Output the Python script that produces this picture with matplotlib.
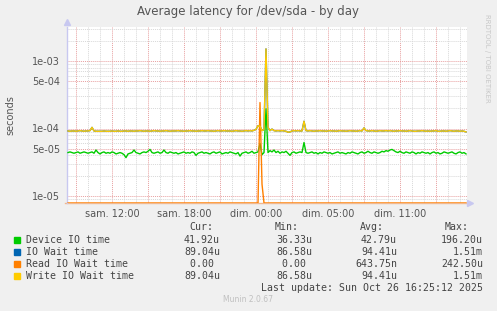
import numpy as np
import matplotlib
matplotlib.use("Agg")
import matplotlib.pyplot as plt
from matplotlib.ticker import FixedLocator, NullFormatter

# --- data (microseconds, one point every 10 minutes, 33h20m window) ---
device_io = [
    44, 45, 44, 43, 44, 45, 43, 44, 45, 44, 43, 44, 45, 43, 48, 44, 42, 44, 45, 43,
    44, 43, 45, 44, 42, 43, 44, 43, 41, 37, 42, 43, 44, 48, 44, 43, 42, 44, 45, 44,
    46, 49, 44, 43, 44, 45, 43, 44, 48, 44, 43, 45, 44, 43, 44, 42, 43, 44, 45, 43,
    44, 43, 45, 44, 40, 43, 44, 45, 43, 44, 43, 42, 44, 45, 43, 44, 45, 42, 43, 44,
    43, 45, 44, 43, 42, 44, 39, 43, 44, 45, 43, 44, 46, 43, 44, 45, 60, 41, 44, 196,
    44, 47, 45, 48, 44, 46, 43, 45, 44, 46, 43, 40, 44, 45, 43, 44, 45, 44, 62, 44,
    43, 44, 45, 43, 44, 42, 44, 43, 45, 44, 43, 44, 42, 43, 44, 45, 43, 44, 43, 42,
    44, 43, 45, 44, 43, 42, 44, 45, 43, 44, 46, 44, 43, 45, 44, 43, 44, 46, 45, 47,
    46, 48, 49, 47, 45, 44, 46, 44, 43, 45, 44, 43, 45, 44, 42, 44, 43, 45, 44, 43,
    44, 42, 44, 45, 43, 44, 42, 43, 45, 44, 43, 44, 45, 43, 42, 44, 45, 43, 44, 42,
]

write_wait = [
    92, 91, 92, 92, 91, 92, 93, 92, 91, 92, 92, 93, 104, 92, 91, 91, 91, 91, 92, 91,
    91, 91, 92, 91, 91, 92, 91, 91, 92, 92, 91, 92, 92, 91, 92, 92, 93, 92, 91, 92,
    92, 91, 92, 93, 92, 92, 91, 92, 92, 93, 92, 91, 92, 92, 92, 93, 92, 92, 91, 92,
    92, 93, 92, 92, 91, 92, 92, 93, 92, 92, 93, 92, 92, 91, 92, 93, 92, 92, 93, 92,
    92, 92, 91, 92, 93, 92, 92, 91, 92, 93, 92, 93, 92, 94, 97, 110, 108, 93, 96, 1510,
    104, 93, 98, 93, 92, 93, 92, 93, 92, 91, 88, 89, 92, 93, 92, 93, 92, 92, 128, 93,
    92, 93, 92, 91, 92, 92, 93, 92, 92, 91, 92, 93, 92, 92, 91, 92, 93, 92, 92, 91,
    92, 93, 92, 92, 91, 92, 93, 92, 102, 93, 92, 92, 93, 92, 91, 92, 93, 92, 92, 93,
    92, 93, 92, 91, 92, 92, 93, 92, 92, 91, 92, 93, 92, 91, 91, 92, 92, 93, 92, 91,
    92, 91, 92, 92, 93, 91, 91, 92, 92, 91, 92, 93, 92, 91, 92, 92, 91, 92, 91, 89,
]

# IO wait is identical to write wait (same legend stats)
io_wait = list(write_wait)

# read wait is zero except around midnight
read_idx = [96, 97]
read_val = [242.5, 15.0]

tick_hours = [12, 18, 24, 30, 36]
tick_labels = ["sam. 12:00", "sam. 18:00", "dim. 00:00", "dim. 05:00", "dim. 11:00"]

legend_names = ["Device IO time", "IO Wait time", "Read IO Wait time", "Write IO Wait time"]
legend_colors = ["#00CC00", "#0066B3", "#FF8000", "#FFCC00"]
legend_cur = ["41.92u", "89.04u", "0.00 ", "89.04u"]
legend_min = ["36.33u", "86.58u", "0.00 ", "86.58u"]
legend_avg = ["42.79u", "94.41u", "643.75n", "94.41u"]
legend_max = ["196.20u", "1.51m", "242.50u", "1.51m"]

# --- layout ---
W, H = 497, 311
fig = plt.figure(figsize=(W / 100, H / 100), dpi=100, facecolor="#F0F0F0")
ax = fig.add_axes([67 / W, 1 - 203 / H, 400 / W, 176 / H])
ax.set_facecolor("white")

t0, t1 = 8.25, 8.25 + 400 * 5 / 60
ymin, ymax = 10 ** (-5 - 7 / 67.5), 10 ** (-3 + 34 / 67.5)

n = len(device_io)
t = t0 + (np.arange(n) + 0.5) / 6.0

read_wait = np.zeros(n)
read_wait[read_idx] = read_val

def to_sec(v):
    v = np.asarray(v, dtype=float) * 1e-6
    return np.maximum(v, ymin)

ax.plot(t, to_sec(device_io), color=legend_colors[0], lw=1.0, zorder=3)
ax.plot(t, to_sec(io_wait), color=legend_colors[1], lw=1.0, zorder=3)
ax.plot(t, to_sec(read_wait), color=legend_colors[2], lw=1.0, zorder=3)
ax.plot(t, to_sec(write_wait), color=legend_colors[3], lw=1.0, zorder=3)

ax.set_yscale("log")
ax.set_xlim(t0, t1)
ax.set_ylim(ymin, ymax)

# grid: red majors, grey minors
major_y = [1e-5, 5e-5, 1e-4, 5e-4, 1e-3]
minor_y = [m * 10.0 ** e for e in (-6, -5, -4, -3) for m in (2, 3, 4, 6, 7, 8, 9)]
ax.yaxis.set_major_locator(FixedLocator(major_y))
ax.yaxis.set_minor_locator(FixedLocator(minor_y))
ax.yaxis.set_minor_formatter(NullFormatter())
ax.set_yticklabels(["1e-05", "5e-05", "1e-04", "5e-04", "1e-03"])

ax.xaxis.set_major_locator(FixedLocator(np.arange(9, 42, 3)))
ax.xaxis.set_minor_locator(FixedLocator(np.arange(9, 42, 1)))
ax.grid(True, which="minor", color="#D8D8D8", linestyle=(0, (1, 1)), lw=0.7, zorder=1)
ax.grid(True, which="major", color="#E8A0A0", linestyle=(0, (1, 1)), lw=0.7, zorder=2)

for tk in ax.get_xticklabels():
    tk.set_visible(False)
for h, lab in zip(tick_hours, tick_labels):
    ax.text(h, -0.035, lab, transform=ax.get_xaxis_transform(), ha="center",
            va="top", fontsize=7, color="#555555")

ax.tick_params(axis="both", which="both", length=0, labelsize=7, labelcolor="#555555")
ax.tick_params(axis="y", pad=5)

for s in ("top", "right", "bottom"):
    ax.spines[s].set_visible(False)
ax.spines["left"].set_color("#C8C8F0")
ax.spines["left"].set_linewidth(1.0)
ax.plot([0], [1.03], marker="^", color="#C8C8F0", ms=4, transform=ax.transAxes, clip_on=False)
ax.plot([1.0075], [0], marker=">", color="#C8C8F0", ms=4, transform=ax.transAxes, clip_on=False)
ax.plot([-0.005, 1.0], [0, 0], color="#F0B890", lw=1.0, transform=ax.transAxes, clip_on=False, zorder=0)

# --- text ---
fig.text(248 / W, 1 - 12 / H, "Average latency for /dev/sda - by day", ha="center",
         va="center", fontsize=8.5, color="#555555")
fig.text(10 / W, 1 - 115 / H, "seconds", rotation=90, ha="center", va="center",
         fontsize=7, color="#555555")
fig.text(487 / W, 1 - 58 / H, "RRDTOOL / TOBI OETIKER", rotation=270, ha="center",
         va="center", fontsize=5, color="#C8C8C8")

mono = dict(family="DejaVu Sans Mono", fontsize=7.1, color="#444444", va="center")
for label, x in zip(["Cur:", "Min:", "Avg:", "Max:"], [213, 299, 384, 469]):
    fig.text(x / W, 1 - 227 / H, label, ha="right", **mono)

row_y = [240, 252, 264, 276]
for i, y in enumerate(row_y):
    fig.patches.append(plt.Rectangle((14 / W, 1 - (y + 3) / H), 6 / W, 6 / H,
                                     transform=fig.transFigure, color=legend_colors[i]))
    fig.text(26 / W, 1 - y / H, legend_names[i], ha="left", **mono)
    fig.text(220 / W, 1 - y / H, legend_cur[i], ha="right", **mono)
    fig.text(312 / W, 1 - y / H, legend_min[i], ha="right", **mono)
    fig.text(397 / W, 1 - y / H, legend_avg[i], ha="right", **mono)
    fig.text(483 / W, 1 - y / H, legend_max[i], ha="right", **mono)

fig.text(483 / W, 1 - 288 / H, "Last update: Sun Oct 26 16:25:12 2025", ha="right", **mono)
fig.text(248 / W, 1 - 300 / H, "Munin 2.0.67", ha="center", va="center",
         fontsize=5.5, color="#C0C0C0")

fig.savefig("out.png", dpi=100, facecolor=fig.get_facecolor())
